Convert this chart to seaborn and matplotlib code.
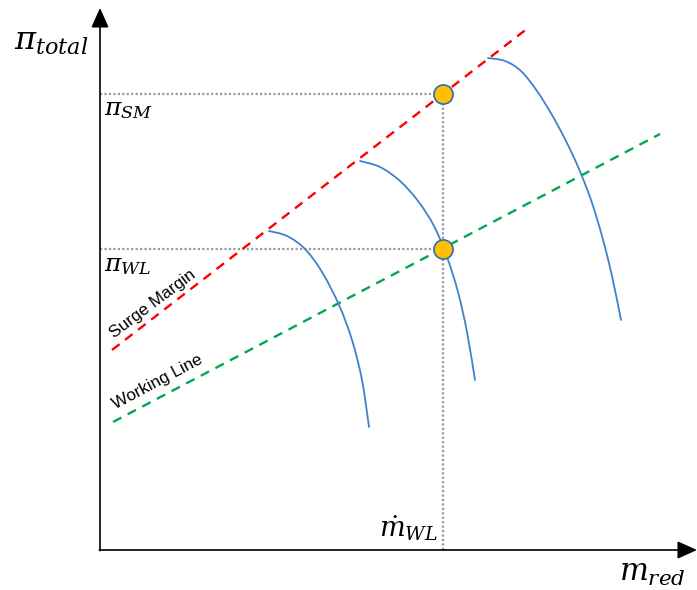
import matplotlib
matplotlib.use("Agg")
import matplotlib.pyplot as plt
from matplotlib.path import Path
from matplotlib.patches import PathPatch
import seaborn as sns
import pandas as pd

sns.set_theme(style="white")
plt.rcParams["font.family"] = ["Liberation Sans", "DejaVu Sans"]
plt.rcParams["mathtext.fontset"] = "dejavuserif"
plt.rcParams["text.color"] = "black"

# Speed lines of the compressor map (reduced mass flow, total pressure ratio)
speed1_m = [169, 187, 205, 222, 239, 252, 262, 269]
speed1_pi = [319, 314, 301, 278, 245, 210, 170, 123]
speed2_m = [260, 280, 300, 318, 334, 347, 358, 367, 375]
speed2_pi = [389, 383, 369, 349, 324, 293, 258, 218, 170]
speed3_m = [388, 405, 421, 437, 452, 466, 479, 491, 502, 512, 521]
speed3_pi = [492, 489, 479, 459, 435, 409, 381, 350, 314, 274, 230]

# Surge margin and working line (end points)
surge_m = [12, 428]
surge_pi = [200, 522]
working_m = [13, 560]
working_pi = [128, 416]

# Operating points at the working-line mass flow
m_wl = 343
pi_sm = 456
pi_wl = 301
op_m = [m_wl, m_wl]
op_pi = [pi_sm, pi_wl]


def smooth_path(xs, ys):
    """Cubic Bezier path through every given point (Catmull-Rom tangents)."""
    pts = list(zip(xs, ys))
    verts = [pts[0]]
    codes = [Path.MOVETO]
    n = len(pts)
    for i in range(n - 1):
        p0 = pts[max(i - 1, 0)]
        p1 = pts[i]
        p2 = pts[i + 1]
        p3 = pts[min(i + 2, n - 1)]
        c1 = (p1[0] + (p2[0] - p0[0]) / 6, p1[1] + (p2[1] - p0[1]) / 6)
        c2 = (p2[0] - (p3[0] - p1[0]) / 6, p2[1] - (p3[1] - p1[1]) / 6)
        verts += [c1, c2, p2]
        codes += [Path.CURVE4] * 3
    return Path(verts, codes)


fig = plt.figure(figsize=(6.97, 5.90), dpi=100)
ax = fig.add_axes([0, 0, 1, 1])
ax.set_xlim(-100, 597)
ax.set_ylim(-40, 550)
ax.axis("off")

blue = "#3F82CC"
for m, p in [(speed1_m, speed1_pi), (speed2_m, speed2_pi), (speed3_m, speed3_pi)]:
    ax.add_patch(PathPatch(smooth_path(m, p), facecolor="none", edgecolor=blue,
                           lw=1.3, zorder=3, capstyle="round"))

sns.lineplot(data=pd.DataFrame({"m": surge_m, "pi": surge_pi}), x="m", y="pi", sort=False,
             color="#FF0000", lw=1.7, ax=ax, zorder=2).lines[-1].set_dashes((4, 3))
sns.lineplot(data=pd.DataFrame({"m": working_m, "pi": working_pi}), x="m", y="pi", sort=False,
             color="#00A84F", lw=1.7, ax=ax, zorder=2).lines[-1].set_dashes((4, 3))

# Guide lines to the operating points
grey = "#9A9A9A"
for p in op_pi:
    ax.plot([0, m_wl], [p, p], color=grey, lw=1.6, dashes=(1, 1), zorder=1)
ax.plot([m_wl, m_wl], [0, pi_sm], color=grey, lw=1.6, dashes=(1, 1), zorder=1)

sns.scatterplot(data=pd.DataFrame({"m": op_m, "pi": op_pi}), x="m", y="pi",
                s=190, color="#FFC000", edgecolor="#2E6DB4", linewidth=1.2, ax=ax, zorder=5)

# Axes with arrow heads
arrow = dict(arrowstyle="-|>,head_length=1.0,head_width=0.45", color="black", lw=1.2,
             shrinkA=0, shrinkB=0)
ax.annotate("", xy=(0, 542), xytext=(0, -0.6), arrowprops=arrow)
ax.annotate("", xy=(597, 0), xytext=(-0.6, 0), arrowprops=arrow)

ax.set_xlabel("")
ax.set_ylabel("")

ax.text(-86, 508, r"$\pi_{total}$", fontsize=23, ha="left", va="center", color="black")
ax.text(4, 441, r"$\pi_{SM}$", fontsize=18, ha="left", va="center", color="black")
ax.text(4, 285, r"$\pi_{WL}$", fontsize=18, ha="left", va="center", color="black")
ax.text(338, 22, r"$\dot{m}_{WL}$", fontsize=19.5, ha="right", va="center", color="black")
ax.text(586, -23, r"$m_{red}$", fontsize=22, ha="right", va="center", color="black")

ax.text(53, 246, "Surge Margin", fontsize=12.3, rotation=37, ha="center", va="center",
        rotation_mode="anchor", color="black")
ax.text(58, 168, "Working Line", fontsize=12.3, rotation=28, ha="center", va="center",
        rotation_mode="anchor", color="black")

fig.savefig("out.png", dpi=100)
